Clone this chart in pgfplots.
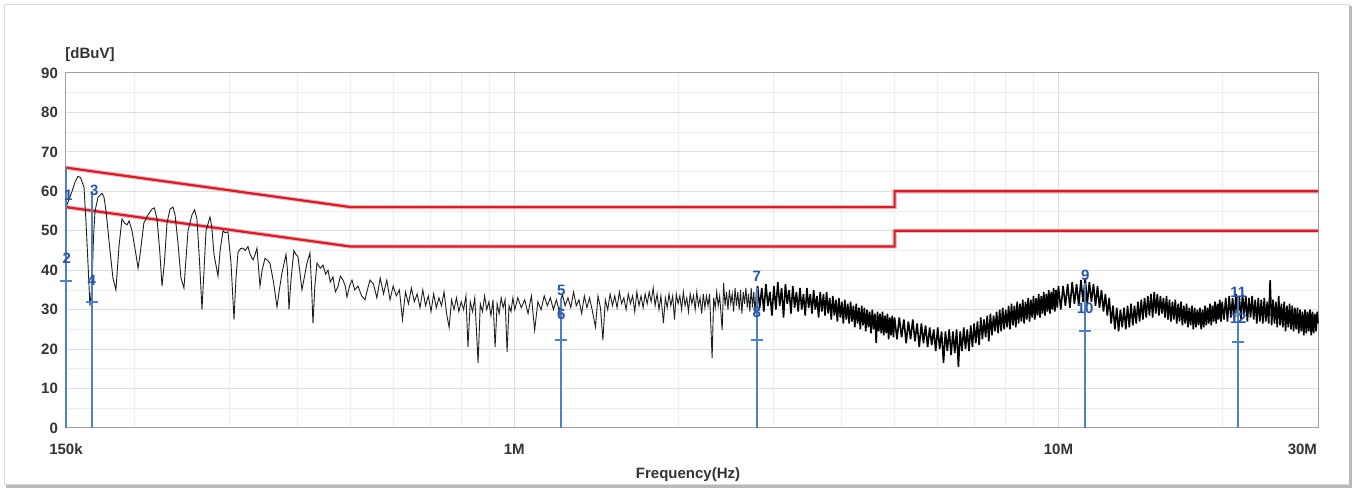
\documentclass[border=0pt]{standalone}
\usepackage{fontspec}
\setmainfont{Liberation Sans}
\usepackage{pgfplots}
\pgfplotsset{compat=1.18}
\definecolor{limred}{RGB}{200,35,45}
\definecolor{limpink}{RGB}{245,185,190}
\definecolor{mkline}{RGB}{80,130,195}
\definecolor{mktext}{RGB}{40,85,170}
\definecolor{gridmaj}{RGB}{222,222,222}
\definecolor{gridmin}{RGB}{238,238,238}
\begin{document}
\begin{tikzpicture}
\path[use as bounding box, fill=white] (-33pt,-31pt) rectangle (645.5pt,214pt);
\begin{axis}[
  at={(0,0)}, anchor=south west,
  scale only axis, width=626pt, height=177.5pt,
  xmode=log, xmin=0.15, xmax=30, ymin=0, ymax=90,
  ytick={0,10,...,90}, minor y tick num=1,
  xtick={0.15,1,10}, xticklabels={150k,1M,10M},
  extra x ticks={30}, extra x tick labels={30M},
  extra x tick style={grid=none, xticklabel style={anchor=north east, xshift=3pt}},
  minor xtick={0.2,0.3,0.4,0.5,0.6,0.7,0.8,0.9,2,3,4,5,6,7,8,9,20},
  grid=both, major grid style={draw=gridmaj, line width=0.5pt}, minor grid style={draw=gridmin, line width=0.4pt},
  major tick length=0pt, minor tick length=0pt,
  axis line style={draw=gray!75, line width=0.5pt},
  /pgf/number format/assume math mode=true,
  tick label style={font=\bfseries\fontsize{7.5}{8}\selectfont, text=black!80},
  xticklabel style={yshift=-4.5pt},
  yticklabel style={xshift=-0.5pt},
  xlabel={Frequency(Hz)},
  xlabel style={font=\bfseries\fontsize{7.5}{8}\selectfont, text=black!80, at={(axis description cs:0.5,0)}, anchor=center, yshift=-23.5pt, xshift=-2pt},
  clip=false,
]
% limit lines
\addplot[limpink, line width=2.2pt] coordinates {(0.15,66) (0.5,56) (5,56) (5,60) (30,60)};
\addplot[limpink, line width=2.2pt] coordinates {(0.15,56) (0.5,46) (5,46) (5,50) (30,50)};
\addplot[limred, line width=1.1pt] coordinates {(0.15,66) (0.5,56) (5,56) (5,60) (30,60)};
\addplot[limred, line width=1.1pt] coordinates {(0.15,56) (0.5,46) (5,46) (5,50) (30,50)};
% measured trace, 150 kHz - 2.8 MHz
\addplot[black!88, line width=0.45pt] table {
0.1500 56
0.1520 58
0.1539 60
0.1560 62.5
0.1578 63.8
0.1595 63.5
0.1619 61
0.1633 52
0.1646 42
0.1660 31
0.1674 36
0.1685 48
0.1696 55
0.1718 58.5
0.1747 59.5
0.1762 58.5
0.1777 55
0.1807 45
0.1830 38
0.1853 35
0.1877 46
0.1901 53
0.1920 52
0.1942 51.5
0.1960 52.5
0.1983 50
0.2017 44
0.2035 40.5
0.2052 44
0.2086 52
0.2122 54
0.2158 55.5
0.2180 55.8
0.2205 53
0.2230 45
0.2252 36
0.2275 42
0.2300 52
0.2330 55.5
0.2359 56
0.2380 54
0.2409 47
0.2440 38
0.2471 35.5
0.2490 42
0.2514 50
0.2556 54
0.2585 55.3
0.2611 53
0.2640 42
0.2667 30
0.2690 40
0.2713 50
0.2759 53.5
0.2780 51
0.2806 44
0.2854 38.5
0.2880 45
0.2915 50
0.2940 49.5
0.2977 49.7
0.3015 42
0.3054 27.5
0.3080 38
0.3106 44.5
0.3140 45.5
0.3172 45.6
0.3200 45
0.3240 46
0.3270 44
0.3310 42.6
0.3340 44
0.3366 45.6
0.3409 36
0.3440 40
0.3482 43
0.3520 42.5
0.3556 41.8
0.3610 37
0.3663 30.7
0.3700 35
0.3742 39.3
0.3806 44
0.3830 40
0.3854 30
0.3890 38
0.3936 45
0.3970 44
0.4004 43.4
0.4040 39
0.4072 35
0.4110 38
0.4159 41.8
0.4212 44.4
0.4240 36
0.4266 26.5
0.4300 36
0.4339 41.8
0.4400 40.5
0.4450 41.3
0.4500 39
0.4546 40
0.4590 37
0.4643 38.3
0.4690 34.5
0.4742 35.8
0.4790 38.5
0.4844 37.5
0.4890 36
0.4926 33.2
0.4980 36
0.5032 37.5
0.5090 35
0.5161 36
0.5240 33.5
0.5316 32.5
0.5370 35
0.5430 37.5
0.551 36.5
0.559 33.0
0.567 38.0
0.575 34.0
0.583 37.5
0.591 32.5
0.599 36.0
0.607 33.5
0.615 35.0
0.623 27.5
0.631 34.5
0.639 31.5
0.647 35.5
0.655 32.0
0.663 34.0
0.671 30.5
0.679 35.0
0.687 31.0
0.695 33.5
0.703 29.5
0.711 34.0
0.719 30.5
0.727 33.0
0.735 31.0
0.743 34.5
0.751 29.0
0.759 25.5
0.767 32.5
0.775 30.0
0.783 33.0
0.791 29.5
0.799 32.0
0.807 30.0
0.815 33.5
0.822 20.5
0.830 32.0
0.838 29.5
0.846 33.0
0.858 16.5
0.866 31.5
0.874 29.5
0.882 33.5
0.890 30.0
0.898 32.0
0.906 28.5
0.914 32.5
0.922 20.5
0.930 31.5
0.938 29.0
0.946 33.0
0.954 30.5
0.962 32.5
0.970 19.3
0.978 31.0
0.986 29.5
0.994 33.0
1.002 30.0
1.015 33.0
1.030 30.5
1.045 32.5
1.060 29.0
1.075 33.5
1.090 24.8
1.105 32.0
1.120 30.0
1.135 33.5
1.150 31.0
1.165 33.0
1.180 30.0
1.195 32.5
1.210 29.5
1.225 34.0
1.240 31.0
1.255 33.0
1.270 30.5
1.285 34.5
1.300 31.0
1.315 32.5
1.330 29.0
1.345 33.5
1.360 30.5
1.375 33.0
1.390 30.0
1.410 25.6
1.425 33.5
1.440 30.5
1.455 22.3
1.470 32.5
1.485 30.0
1.500 34.0
1.515 31.0
1.530 33.5
1.545 30.5
1.560 34.5
1.575 31.5
1.590 33.0
1.605 30.0
1.620 34.0
1.635 31.5
1.650 33.5
1.665 29.5
1.680 34.5
1.695 31.0
1.710 33.5
1.725 30.5
1.740 34.0
1.755 31.5
1.770 34.5
1.785 32.0
1.800 35.5
1.815 31.0
1.830 34.0
1.845 30.0
1.860 33.5
1.880 26.6
1.895 33.0
1.910 30.5
1.925 34.0
1.940 31.0
1.955 33.5
1.970 27.5
1.985 34.0
2.000 31.5
2.015 33.5
2.030 30.0
2.045 34.5
2.060 31.0
2.075 33.0
2.090 29.5
2.105 34.0
2.120 31.5
2.135 33.5
2.150 30.0
2.165 34.5
2.180 31.0
2.195 33.0
2.210 29.0
2.225 34.0
2.240 30.5
2.255 33.5
2.270 31.0
2.285 34.0
2.310 17.7
2.325 33.0
2.340 30.5
2.355 34.5
2.370 31.0
2.385 33.5
2.410 24.8
2.425 36.8
2.440 31.0
2.455 34.5
2.470 30.0
2.485 35.0
2.500 31.5
2.515 34.0
2.530 29.5
2.545 35.5
2.560 31.0
2.575 34.5
2.590 30.0
2.605 35.0
2.620 29.0
2.635 34.5
2.650 31.5
2.665 35.5
2.680 30.5
2.695 34.0
2.710 29.5
2.725 35.5
2.740 30.5
2.755 34.5
2.770 29.0
2.785 35.0
2.800 36.0
};
% measured trace, 2.8 MHz - 30 MHz (dense band)
\addplot[black, line width=0.8pt, line join=bevel] table {
2.800 36.0
2.825 30.5
2.850 35.5
2.875 29.5
2.900 36.5
2.925 31.0
2.950 34.5
2.975 28.5
3.000 36.0
3.025 30.0
3.050 37.0
3.075 31.0
3.100 35.5
3.125 28.0
3.150 36.5
3.175 31.5
3.200 35.0
3.225 29.0
3.250 36.0
3.275 30.5
3.300 34.5
3.325 29.5
3.350 35.5
3.375 30.0
3.400 34.0
3.425 28.5
3.450 35.5
3.475 30.5
3.500 34.0
3.525 29.0
3.550 35.0
3.575 30.0
3.600 33.5
3.625 28.0
3.650 34.5
3.675 29.5
3.700 34.0
3.725 28.5
3.750 34.5
3.775 29.0
3.800 33.0
3.825 27.5
3.850 33.5
3.875 28.5
3.900 32.5
3.925 27.0
3.950 33.0
3.975 28.0
4.000 32.0
4.025 26.5
4.050 32.5
4.075 27.5
4.100 31.5
4.125 26.5
4.150 32.0
4.175 27.0
4.200 31.0
4.225 25.5
4.250 31.5
4.275 26.5
4.300 30.5
4.325 25.0
4.350 31.0
4.375 26.0
4.400 30.5
4.425 24.5
4.450 30.0
4.475 25.5
4.500 29.5
4.525 24.0
4.550 30.0
4.575 25.0
4.600 29.0
4.625 21.5
4.650 29.5
4.675 24.5
4.700 29.0
4.725 24.0
4.750 29.5
4.775 23.5
4.800 28.5
4.825 24.0
4.850 29.0
4.875 22.5
4.900 28.0
4.925 23.5
4.950 28.5
4.975 23.0
5.000 28.0
5.05 22.5
5.10 28.0
5.15 23.0
5.20 27.5
5.25 21.5
5.30 27.0
5.35 22.5
5.40 27.5
5.45 22.0
5.50 26.5
5.55 20.5
5.60 26.5
5.65 21.5
5.70 26.0
5.75 20.5
5.80 25.5
5.85 21.0
5.90 25.0
5.95 19.5
6.00 25.5
6.05 20.0
6.10 24.5
6.15 16.5
6.20 24.5
6.25 19.5
6.30 25.0
6.35 18.5
6.40 24.5
6.45 19.0
6.50 25.0
6.55 15.5
6.60 24.5
6.65 19.5
6.70 25.5
6.75 20.0
6.80 25.0
6.85 19.5
6.90 26.0
6.95 20.5
7.00 26.5
7.05 21.5
7.10 27.0
7.15 21.0
7.20 28.0
7.25 22.5
7.30 27.5
7.35 23.0
7.40 28.5
7.45 22.0
7.50 29.0
7.55 23.5
7.60 28.5
7.65 24.5
7.70 29.5
7.75 24.0
7.80 30.0
7.85 24.5
7.90 30.5
7.95 25.0
8.00 30.0
8.05 25.5
8.10 31.0
8.15 25.0
8.20 31.5
8.25 26.0
8.30 31.0
8.35 25.5
8.40 32.0
8.45 26.5
8.50 31.5
8.55 27.0
8.60 32.5
8.65 26.5
8.70 32.0
8.75 27.5
8.80 33.0
8.85 27.0
8.90 32.5
8.95 28.0
9.00 33.5
9.05 27.5
9.10 33.0
9.15 28.5
9.20 34.0
9.25 28.0
9.30 33.5
9.35 29.0
9.40 34.5
9.45 28.5
9.50 34.0
9.55 29.5
9.60 35.0
9.65 29.0
9.70 34.5
9.75 30.0
9.80 35.5
9.85 29.5
9.90 35.0
9.95 30.5
10.00 36.0
10.1 30.0
10.2 36.0
10.3 31.0
10.4 36.5
10.5 30.5
10.6 37.0
10.7 31.5
10.8 36.5
10.9 31.0
11.0 37.5
11.1 32.0
11.2 38.0
11.3 31.5
11.4 37.0
11.5 32.0
11.6 36.5
11.7 31.0
11.8 36.0
11.9 30.5
12.0 35.0
12.1 29.5
12.2 34.0
12.3 28.5
12.4 33.0
12.5 26.5
12.6 31.0
12.7 25.0
12.8 30.5
12.9 24.5
13.0 30.0
13.1 25.5
13.2 30.5
13.3 25.0
13.4 31.0
13.5 25.5
13.6 31.5
13.7 26.0
13.8 31.0
13.9 26.5
14.0 32.0
14.1 27.0
14.2 32.5
14.3 27.5
14.4 33.0
14.5 28.0
14.6 33.5
14.7 28.5
14.8 34.0
14.9 28.0
15.0 34.5
15.1 29.0
15.2 34.0
15.3 28.5
15.4 33.5
15.5 29.0
15.6 33.0
15.7 28.0
15.8 33.5
15.9 27.5
16.0 32.5
16.1 27.0
16.2 32.0
16.3 27.5
16.4 32.5
16.5 26.5
16.6 31.5
16.7 27.0
16.8 32.0
16.9 26.0
17.0 31.0
17.1 26.5
17.2 31.5
17.3 25.5
17.4 30.5
17.5 26.0
17.6 31.0
17.7 25.0
17.8 30.5
17.9 25.5
18.0 30.0
18.1 26.0
18.2 30.5
18.3 25.0
18.4 30.0
18.5 25.5
18.6 31.0
18.7 26.0
18.8 30.5
18.9 26.5
19.0 31.5
19.1 26.0
19.2 31.0
19.3 27.0
19.4 32.0
19.5 26.5
19.6 31.5
19.7 27.5
19.8 32.5
19.9 27.0
20.0 32.0
20.15 27.5
20.30 33.0
20.45 27.0
20.60 33.5
20.75 28.0
20.90 33.0
21.05 27.5
21.20 34.0
21.35 28.0
21.50 33.5
21.65 27.5
21.80 34.0
21.95 28.5
22.10 33.5
22.25 27.0
22.40 33.0
22.55 28.0
22.70 33.5
22.85 27.5
23.00 32.5
23.15 26.5
23.30 33.0
23.45 27.0
23.60 32.5
23.75 26.5
23.90 33.0
24.05 27.0
24.20 32.0
24.35 26.5
24.50 37.5
24.65 26.0
24.80 32.5
24.95 26.5
25.10 32.0
25.25 25.5
25.40 33.5
25.55 26.0
25.70 31.5
25.85 25.5
26.00 32.0
26.15 24.5
26.30 31.0
26.45 25.5
26.60 31.5
26.75 25.0
26.90 31.0
27.05 24.5
27.20 30.5
27.35 25.0
27.50 30.5
27.65 24.0
27.80 30.0
27.95 24.5
28.10 29.5
28.25 23.5
28.40 30.0
28.55 24.0
28.70 29.5
28.85 24.5
29.00 30.0
29.15 23.5
29.30 29.5
29.45 24.0
29.60 29.0
29.75 24.5
29.90 29.5
30.00 26.5
};
% marker lines
\addplot[mkline, line width=1pt] coordinates {(0.1503,0) (0.1503,66)};
\addplot[mkline, line width=0.9pt] coordinates {(0.1674,0) (0.1674,60)};
\addplot[mkline, line width=0.9pt] coordinates {(1.22,0) (1.22,33)};
\addplot[mkline, line width=0.9pt] coordinates {(2.79,0) (2.79,35.5)};
\addplot[mkline, line width=0.9pt] coordinates {(11.2,0) (11.2,36.8)};
\addplot[mkline, line width=0.9pt] coordinates {(21.4,0) (21.4,33.5)};
\addplot[mkline, only marks, mark=+, mark size=3pt, mark options={line width=0.8pt}] coordinates {(0.1503,37.3) (0.1674,32.0) (1.22,22.3) (2.79,22.3) (11.2,24.6) (21.4,21.8)};
% marker labels
\begin{scope}[every node/.style={font=\bfseries\fontsize{7.5}{8}\selectfont, text=mktext, inner sep=0pt}]
\node at (axis cs:0.1515,59.1) {1};
\node at (axis cs:0.1505,43.1) {2};
\node at (axis cs:0.1690,60.3) {3};
\node at (axis cs:0.1674,37.5) {4};
\node at (axis cs:1.22,35.0) {5};
\node at (axis cs:1.22,28.7) {6};
\node at (axis cs:2.79,38.5) {7};
\node at (axis cs:2.79,29.2) {8};
\node at (axis cs:11.2,38.8) {9};
\node at (axis cs:11.2,30.4) {10};
\node at (axis cs:21.4,34.5) {11};
\node at (axis cs:21.4,27.9) {12};
\end{scope}
\node[anchor=west, inner sep=0pt, font=\bfseries\fontsize{7.5}{8}\selectfont, text=black!80] at (axis description cs:0,1) [yshift=9pt, xshift=-0.5pt] {[dBuV]};
\end{axis}
\draw[gray!30, line width=0.5pt] (-30.5pt,-28.5pt) rectangle (641.5pt,211.5pt);
\draw[gray!55, line width=1.5pt] (-30pt,-29.2pt) -- (642.2pt,-29.2pt) -- (642.2pt,211pt);
\end{tikzpicture}
\end{document}
